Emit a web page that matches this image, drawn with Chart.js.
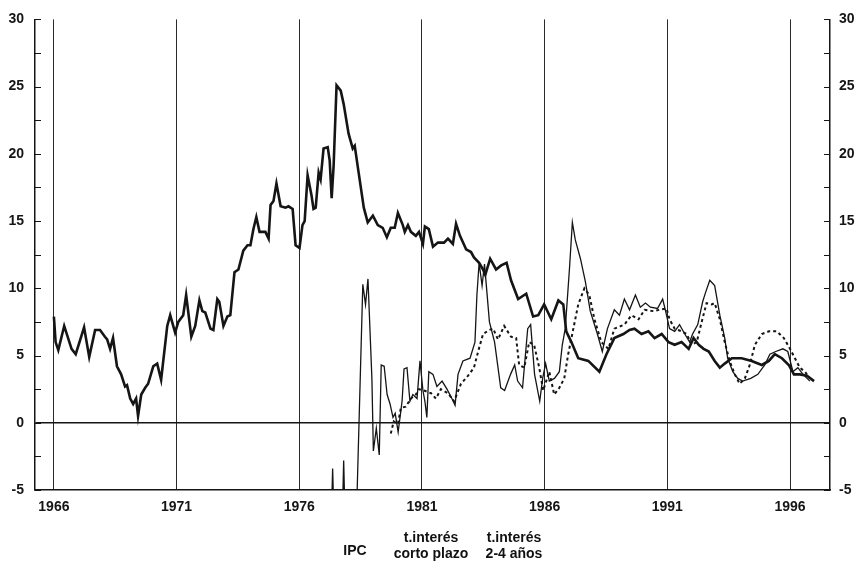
<!DOCTYPE html>
<html>
<head>
<meta charset="utf-8">
<script src="https://cdn.jsdelivr.net/npm/chart.js@4/dist/chart.umd.min.js"></script>
<style>
body { margin: 0; background: #fff; }
#wrap { position: relative; width: 859px; height: 572px; }
.leg { position: absolute; transform: translate(-50%, -50%); text-align: center;
  font: bold 14px "Liberation Sans", Arial, sans-serif; line-height: 16px; color: #111; white-space: nowrap; }
</style>
</head>
<body>
<div id="wrap">
<canvas id="chartIpc" width="859" height="572"></canvas>
<div class="leg" style="left:355px;top:550px">IPC</div>
<div class="leg" style="left:431px;top:545px">t.interés<br>corto plazo</div>
<div class="leg" style="left:514px;top:545px">t.interés<br>2-4 años</div>
</div>
<script>
// years shown on the x axis, y ticks
var yearTicks = [1966, 1971, 1976, 1981, 1986, 1991, 1996];
var yTicks = [-5, -2.5, 0, 2.5, 5, 7.5, 10, 12.5, 15, 17.5, 20, 22.5, 25, 27.5, 30];

// [year, %]
var ipc = [[1966.00,7.9],[1966.07,6.0],[1966.18,5.4],[1966.42,7.2],[1966.72,5.5],[1966.89,5.1],[1967.23,7.1],[1967.44,4.9],[1967.68,6.9],[1967.88,6.9],
[1968.08,6.4],[1968.17,6.2],[1968.29,5.5],[1968.41,6.3],[1968.57,4.2],[1968.74,3.6],[1968.90,2.7],[1968.98,2.8],[1969.11,1.8],[1969.23,1.4],
[1969.35,1.8],[1969.43,0.5],[1969.56,2.1],[1969.72,2.6],[1969.84,2.9],[1970.05,4.2],[1970.21,4.4],[1970.37,3.2],[1970.62,7.2],[1970.74,8.0],
[1970.94,6.7],[1971.07,7.5],[1971.27,8.0],[1971.39,9.5],[1971.60,6.4],[1971.76,7.2],[1971.93,9.1],[1972.05,8.3],[1972.17,8.2],[1972.38,7.0],
[1972.50,6.9],[1972.66,9.2],[1972.74,9.0],[1972.91,7.2],[1973.07,7.9],[1973.19,8.0],[1973.36,11.2],[1973.52,11.4],[1973.72,12.8],[1973.89,13.2],
[1974.01,13.2],[1974.13,14.4],[1974.25,15.3],[1974.38,14.2],[1974.62,14.2],[1974.75,13.7],[1974.83,16.2],[1974.95,16.5],[1975.07,17.8],[1975.24,16.1],
[1975.44,16.0],[1975.56,16.1],[1975.73,15.9],[1975.85,13.2],[1976.01,13.0],[1976.13,14.7],[1976.22,15.0],[1976.34,18.4],[1976.50,16.9],[1976.58,15.9],
[1976.67,16.0],[1976.79,18.6],[1976.87,18.1],[1976.99,20.4],[1977.16,20.5],[1977.24,19.5],[1977.32,16.7],[1977.40,19.1],[1977.52,25.1],[1977.69,24.7],
[1977.81,23.7],[1978.01,21.5],[1978.18,20.4],[1978.26,20.6],[1978.42,18.6],[1978.63,16.0],[1978.79,14.9],[1979.00,15.4],[1979.20,14.7],[1979.40,14.5],
[1979.57,13.8],[1979.73,14.5],[1979.89,14.5],[1980.02,15.6],[1980.22,14.7],[1980.30,14.2],[1980.43,14.7],[1980.55,14.2],[1980.75,13.9],[1980.88,14.2],
[1981.04,13.3],[1981.12,14.6],[1981.28,14.4],[1981.45,13.1],[1981.65,13.4],[1981.90,13.4],[1982.06,13.7],[1982.26,13.3],[1982.39,14.8],[1982.55,13.9],
[1982.80,12.9],[1983.00,12.7],[1983.12,12.3],[1983.33,11.9],[1983.49,11.4],[1983.58,11.0],[1983.78,12.2],[1984.02,11.4],[1984.23,11.7],[1984.45,11.9],
[1984.63,10.6],[1984.92,9.2],[1985.25,9.6],[1985.53,7.9],[1985.74,8.0],[1985.98,8.8],[1986.27,7.7],[1986.56,9.1],[1986.76,8.8],[1986.88,6.8],
[1987.09,6.0],[1987.37,4.8],[1987.78,4.6],[1988.23,3.8],[1988.52,5.1],[1988.84,6.3],[1989.21,6.6],[1989.46,6.9],[1989.66,7.0],[1989.95,6.6],
[1990.23,6.8],[1990.48,6.3],[1990.77,6.6],[1991.05,6.0],[1991.30,5.8],[1991.58,6.0],[1991.87,5.5],[1992.07,6.3],[1992.28,5.8],[1992.48,5.5],
[1992.69,5.3],[1992.93,4.6],[1993.14,4.1],[1993.34,4.4],[1993.63,4.8],[1994.03,4.8],[1994.44,4.6],[1994.85,4.3],[1995.14,4.6],[1995.38,5.1],
[1995.67,4.8],[1995.95,4.3],[1996.16,3.6],[1996.40,3.6],[1996.69,3.5],[1996.98,3.1]];

var cortoPlazo = [[1976.90,-9],[1977.28,-9],[1977.36,-3.4],[1977.44,-9],[1977.73,-9],[1977.81,-2.8],[1977.89,-9],[1978.30,-9],[1978.59,10.3],[1978.70,8.8],
[1978.80,10.7],[1978.96,3.3],[1979.02,-2.1],[1979.14,-0.4],[1979.26,-2.4],[1979.34,4.3],[1979.46,4.2],[1979.58,2.1],[1979.70,1.4],[1979.82,0.4],
[1979.91,0.7],[1980.03,-0.7],[1980.19,1.6],[1980.27,4.0],[1980.39,4.1],[1980.51,1.6],[1980.63,2.1],[1980.80,1.8],[1980.92,4.6],[1981.04,2.4],
[1981.12,1.6],[1981.20,0.4],[1981.28,3.8],[1981.45,3.6],[1981.61,2.7],[1981.82,3.1],[1982.02,2.5],[1982.22,1.8],[1982.35,1.3],[1982.47,3.6],
[1982.67,4.6],[1982.96,4.8],[1983.16,6.0],[1983.24,9.5],[1983.33,11.9],[1983.45,10.2],[1983.55,11.8],[1983.75,7.5],[1983.96,6.0],[1984.21,2.6],
[1984.37,2.4],[1984.61,3.6],[1984.78,4.3],[1984.90,3.1],[1985.10,2.6],[1985.31,7.0],[1985.43,7.3],[1985.59,3.6],[1985.80,1.6],[1985.92,3.3],
[1986.04,4.4],[1986.19,3.1],[1986.40,3.3],[1986.60,3.8],[1986.72,5.8],[1986.84,7.0],[1987.01,11.4],[1987.13,14.9],[1987.25,13.6],[1987.46,12.2],
[1987.66,10.5],[1987.86,8.3],[1988.15,6.6],[1988.35,5.3],[1988.56,7.0],[1988.84,8.4],[1989.05,8.0],[1989.25,9.2],[1989.46,8.4],[1989.70,9.5],
[1989.90,8.6],[1990.11,8.9],[1990.31,8.6],[1990.60,8.5],[1990.81,9.2],[1990.93,8.3],[1991.09,7.0],[1991.30,6.8],[1991.50,7.3],[1991.71,6.6],
[1991.91,6.0],[1992.03,6.6],[1992.24,7.3],[1992.44,9.0],[1992.56,9.7],[1992.73,10.6],[1992.93,10.2],[1993.14,8.0],[1993.34,6.3],[1993.46,4.8],
[1993.67,3.8],[1993.87,3.3],[1994.07,3.1],[1994.40,3.3],[1994.69,3.6],[1994.97,4.3],[1995.18,5.1],[1995.42,5.3],[1995.71,5.5],[1995.91,5.3],
[1996.12,3.8],[1996.32,4.1],[1996.53,3.6],[1996.81,3.1]];

var dosCuatro = [[1979.73,-0.8],[1979.85,0.1],[1980.02,-0.1],[1980.14,1.1],[1980.34,1.2],[1980.55,1.8],[1980.75,2.1],[1980.88,2.5],[1981.08,2.4],[1981.37,2.2],
[1981.57,1.8],[1981.77,2.5],[1982.06,2.2],[1982.31,1.6],[1982.59,2.9],[1982.88,3.5],[1983.12,4.1],[1983.29,5.3],[1983.49,6.6],[1983.74,6.9],
[1983.90,7.0],[1984.10,6.2],[1984.35,7.2],[1984.63,6.4],[1984.84,6.3],[1984.96,4.3],[1985.17,4.1],[1985.37,6.0],[1985.57,5.8],[1985.78,4.1],
[1985.94,2.4],[1986.19,3.8],[1986.39,2.1],[1986.60,2.6],[1986.80,3.3],[1986.96,5.1],[1987.17,7.0],[1987.37,8.8],[1987.62,10.0],[1987.82,9.5],
[1988.03,7.7],[1988.31,6.0],[1988.60,5.5],[1988.84,7.0],[1989.25,7.3],[1989.54,8.0],[1989.83,7.7],[1990.07,8.4],[1990.44,8.3],[1990.68,8.4],
[1990.97,8.5],[1991.09,7.7],[1991.30,7.0],[1991.58,6.8],[1991.79,6.6],[1991.99,5.8],[1992.20,6.0],[1992.40,7.5],[1992.60,8.9],[1992.81,8.8],
[1992.93,8.9],[1993.14,7.7],[1993.34,6.0],[1993.54,4.6],[1993.75,3.6],[1993.95,2.9],[1994.16,3.3],[1994.36,4.3],[1994.57,5.8],[1994.85,6.6],
[1995.14,6.8],[1995.46,6.8],[1995.75,6.3],[1996.00,5.5],[1996.20,4.8],[1996.40,4.1],[1996.61,3.8],[1996.81,3.3]];

function pts(arr) {
  return arr.map(function (p) { return { x: p[0], y: p[1] }; });
}

var ink = '#151515';
var tickFont = { family: '"Liberation Sans", Arial, sans-serif', size: 14, weight: 'bold' };

// small tick marks drawn on the inside of both vertical axes
var innerTicks = {
  id: 'innerTicks',
  afterDraw: function (chart) {
    var ctx = chart.ctx, a = chart.chartArea, y = chart.scales.y;
    ctx.save();
    ctx.strokeStyle = ink;
    ctx.lineWidth = 1;
    ctx.beginPath();
    yTicks.forEach(function (v) {
      var py = Math.round(y.getPixelForValue(v)) + 0.5;
      ctx.moveTo(a.left, py); ctx.lineTo(a.left + 6, py);
      ctx.moveTo(a.right - 6, py); ctx.lineTo(a.right, py);
    });
    ctx.stroke();
    ctx.restore();
  }
};

function setYTicks(scale) {
  scale.ticks = yTicks.map(function (v) { return { value: v }; });
}

var ctxI = document.getElementById('chartIpc').getContext('2d');
var myChart = new Chart(ctxI, {
  type: 'line',
  data: {
    datasets: [{
      label: 'IPC',
      data: pts(ipc),
      borderColor: ink,
      borderWidth: 2.6,
      pointRadius: 0,
      tension: 0
    }, {
      label: 't.interés corto plazo',
      data: pts(cortoPlazo),
      borderColor: ink,
      borderWidth: 1.3,
      pointRadius: 0,
      tension: 0
    }, {
      label: 't.interés 2-4 años',
      data: pts(dosCuatro),
      borderColor: ink,
      borderWidth: 2,
      borderDash: [3, 3],
      pointRadius: 0,
      tension: 0
    }]
  },
  options: {
    responsive: false,
    animation: false,
    devicePixelRatio: 1,
    layout: { padding: { top: 15, left: 0, right: 0, bottom: 0 } },
    plugins: { legend: { display: false }, tooltip: { enabled: false } },
    scales: {
      x: {
        type: 'linear',
        min: 1965.23,
        max: 1997.63,
        afterBuildTicks: function (scale) {
          scale.ticks = yearTicks.map(function (v) { return { value: v }; });
        },
        afterFit: function (scale) { scale.height = 82; },
        ticks: {
          autoSkip: false, maxRotation: 0, padding: 9, color: ink, font: tickFont,
          callback: function (v) { return String(v); }
        },
        grid: { color: '#2a2a2a', lineWidth: 1, drawTicks: false },
        border: { display: true, color: ink, width: 1.5 }
      },
      y: {
        position: 'left',
        min: -5,
        max: 30,
        afterBuildTicks: setYTicks,
        afterFit: function (scale) { scale.width = 35; },
        ticks: {
          autoSkip: false, padding: 11, color: ink, font: tickFont,
          callback: function (v) { return v % 5 === 0 ? String(v) : ''; }
        },
        grid: {
          drawTicks: false,
          lineWidth: 1.5,
          color: function (c) { return c.tick && c.tick.value === 0 ? ink : 'rgba(0,0,0,0)'; }
        },
        border: { display: true, color: ink, width: 1.5 }
      },
      y2: {
        position: 'right',
        min: -5,
        max: 30,
        afterBuildTicks: setYTicks,
        afterFit: function (scale) { scale.width = 29; },
        ticks: {
          autoSkip: false, padding: 9, color: ink, font: tickFont,
          callback: function (v) { return v % 5 === 0 ? String(v) : ''; }
        },
        grid: { display: false, drawTicks: false },
        border: { display: true, color: ink, width: 1.5 }
      }
    }
  },
  plugins: [innerTicks]
});
</script>
</body>
</html>
